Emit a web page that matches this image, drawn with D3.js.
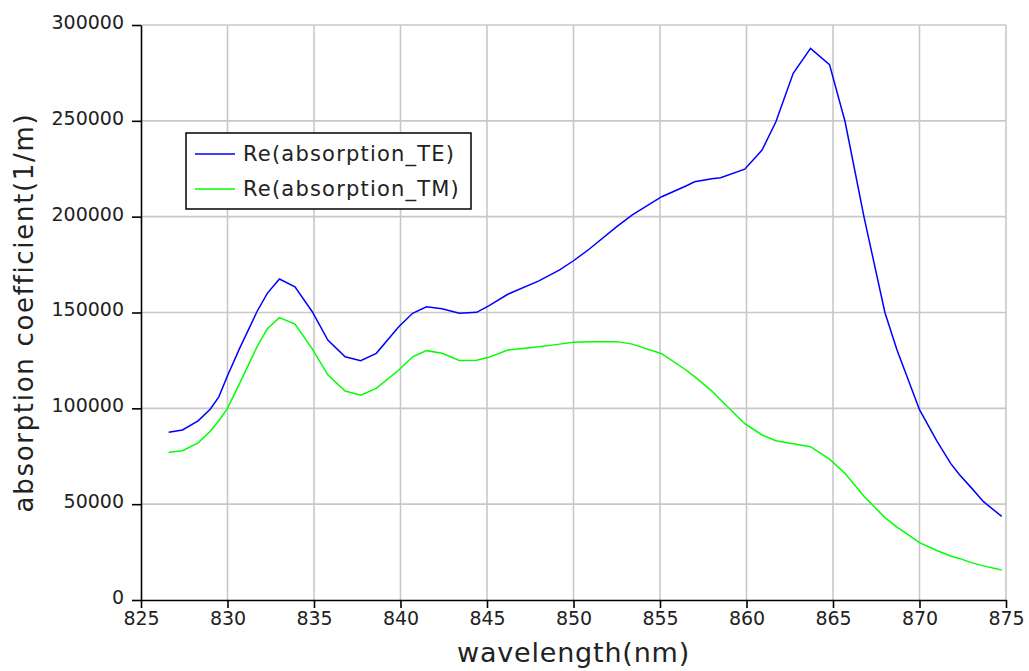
<!DOCTYPE html>
<html>
<head>
<meta charset="utf-8">
<script src="https://cdn.jsdelivr.net/npm/d3@7/dist/d3.min.js"></script>
<style>
  body { margin: 0; background: #fff; }
  svg { display: block; font-family: "DejaVu Sans", sans-serif; }
</style>
</head>
<body>
<div id="chart"></div>
<script>
// wavelength samples (nm)
var wavelength = [826.6, 827.4, 828.3, 829.0, 829.5, 830.0, 830.7, 831.7, 832.3, 833.0,
	833.9, 834.9, 835.8, 836.8, 837.7, 838.6, 839.9, 840.7, 841.5, 842.4,
	843.4, 844.4, 845.1, 846.2, 848.0, 849.2, 850.0, 850.9, 852.5, 853.4,
	855.1, 856.5, 857.0, 858.0, 858.5, 859.9, 860.9, 861.7, 862.7, 863.7,
	864.8, 865.7, 866.8, 868.0, 868.7, 870.0, 871.0, 871.8, 872.3, 873.0,
	873.7, 874.75];

var absTE = [87500, 88700, 93500, 99500, 106000, 117000, 131300, 150400, 160000, 167500,
	163400, 150400, 135600, 126900, 124800, 128700, 142600, 149600, 153000, 152000,
	149600, 150100, 153500, 159500, 166500, 172200, 177000, 183000, 194800, 200900,
	210400, 216000, 218200, 219800, 220300, 224800, 234800, 249500, 274800, 287800,
	279300, 249500, 199500, 150000, 130400, 99300, 83000, 71300, 65500, 58500,
	51300, 43600];

var absTM = [77100, 77900, 82000, 88000, 93500, 100000, 113000, 132000, 141500, 147300,
	144000, 131000, 117500, 109000, 106900, 110400, 120000, 126900, 130100, 128700,
	125000, 125100, 126600, 130400, 132100, 133500, 134500, 134800, 134800, 133500,
	128500, 120000, 116500, 109000, 104500, 92000, 86100, 83100, 81500, 80000,
	73500, 66000, 54000, 43000, 38000, 29900, 25800, 23000, 21700, 19500,
	17800, 15700];

var xTicks = [825, 830, 835, 840, 845, 850, 855, 860, 865, 870, 875];
var yTicks = [0, 50000, 100000, 150000, 200000, 250000, 300000];

var seriesNames = ["Re(absorption_TE)", "Re(absorption_TM)"];
var seriesColors = ["#0000ff", "#00ff00"];

var W = 1029, H = 671;
var margin = {top: 25, right: 23, bottom: 71, left: 141};
var width = W - margin.left - margin.right;
var height = H - margin.top - margin.bottom;

var svg = d3.select("#chart").append("svg")
	.attr("width", W)
	.attr("height", H);

var g = svg.append("g")
	.attr("transform", "translate(" + margin.left + "," + margin.top + ")");

var x = d3.scaleLinear().domain([825, 875]).range([0, width]);
var y = d3.scaleLinear().domain([0, 300000]).range([height, 0]);

// grid
g.append("g").selectAll("line.vg")
	.data(xTicks.slice(1))
	.enter().append("line")
	.attr("x1", function(d){ return x(d); })
	.attr("x2", function(d){ return x(d); })
	.attr("y1", 0).attr("y2", height)
	.attr("stroke", "#c8c8c8").attr("stroke-width", 1.6);

g.append("g").selectAll("line.hg")
	.data(yTicks.slice(1))
	.enter().append("line")
	.attr("x1", 0).attr("x2", width)
	.attr("y1", function(d){ return y(d); })
	.attr("y2", function(d){ return y(d); })
	.attr("stroke", "#c8c8c8").attr("stroke-width", 1.6);

// axes
var xAxis = g.append("g")
	.attr("transform", "translate(0," + height + ")")
	.call(d3.axisBottom(x).tickValues(xTicks).tickSize(8).tickPadding(4).tickSizeOuter(0));

var yAxis = g.append("g")
	.call(d3.axisLeft(y).tickValues(yTicks).tickFormat(d3.format("d")).tickSize(9).tickPadding(8).tickSizeOuter(0));

[xAxis, yAxis].forEach(function(a){
	a.select(".domain").attr("stroke", "#000").attr("stroke-width", 1.6);
	a.selectAll(".tick line").attr("stroke", "#000").attr("stroke-width", 1.6);
	a.selectAll(".tick text")
		.attr("fill", "#222")
		.style("font-size", "19px")
		.style("font-family", "'DejaVu Sans', sans-serif");
});
yAxis.selectAll(".tick text").attr("dy", "0.18em");

// lines
var line = d3.line()
	.x(function(d){ return x(d[0]); })
	.y(function(d){ return y(d[1]); });

[absTE, absTM].forEach(function(vals, i){
	g.append("path")
		.datum(d3.zip(wavelength, vals))
		.attr("fill", "none")
		.attr("stroke", seriesColors[i])
		.attr("stroke-width", 1.5)
		.attr("d", line);
});

// axis titles
svg.append("text")
	.attr("x", margin.left + width / 2)
	.attr("y", 662)
	.attr("text-anchor", "middle")
	.attr("fill", "#222")
	.style("font-size", "27px")
	.style("letter-spacing", "0.8px")
	.text("wavelength(nm)");

svg.append("text")
	.attr("transform", "translate(33," + (margin.top + height / 2) + ") rotate(-90)")
	.attr("text-anchor", "middle")
	.attr("fill", "#222")
	.style("font-size", "26px")
	.style("letter-spacing", "1.7px")
	.text("absorption coefficient(1/m)");

// legend
var legend = svg.append("g").attr("transform", "translate(186,133)");
legend.append("rect")
	.attr("width", 285).attr("height", 76)
	.attr("fill", "#fff")
	.attr("stroke", "#000").attr("stroke-width", 1.5);

seriesNames.forEach(function(name, i){
	var ly = 21 + i * 35;
	legend.append("line")
		.attr("x1", 9).attr("x2", 49)
		.attr("y1", ly).attr("y2", ly)
		.attr("stroke", seriesColors[i]).attr("stroke-width", 1.5);
	legend.append("text")
		.attr("x", 57).attr("y", ly + 7)
		.attr("fill", "#222")
		.style("font-size", "21px")
		.style("letter-spacing", "1.2px")
		.text(name);
});
</script>
</body>
</html>
